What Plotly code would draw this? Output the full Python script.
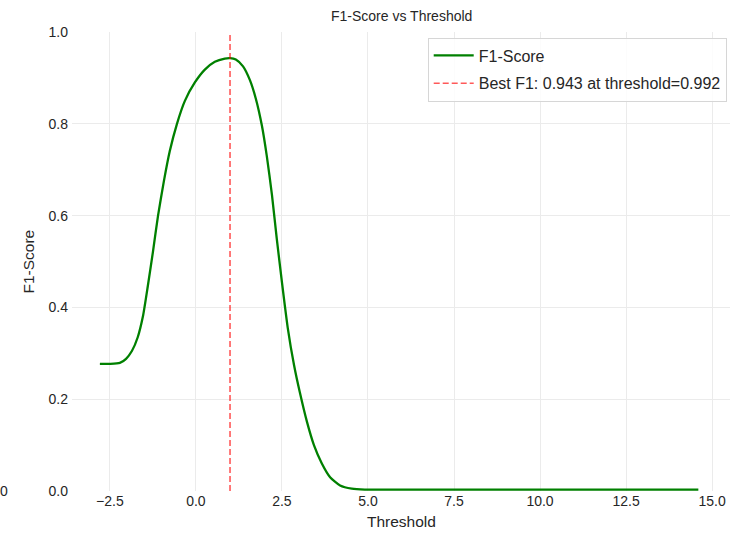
import plotly.graph_objects as go

# F1-score measured at each decision threshold
thresholds = [-2.79, -2.50, -2.21, -2.03, -1.86, -1.69, -1.54, -1.40, -1.25, -1.10,
              -0.93, -0.76, -0.55, -0.32, -0.03, 0.26, 0.55, 0.84, 0.992, 1.16,
              1.37, 1.57, 1.74, 1.92, 2.06, 2.21, 2.35, 2.50, 2.67, 2.85,
              3.02, 3.23, 3.43, 3.66, 3.90, 4.19, 4.53, 4.91, 6.0, 8.0,
              10.0, 12.0, 14.6]
f1_scores = [0.277, 0.277, 0.279, 0.288, 0.305, 0.335, 0.380, 0.445, 0.520, 0.600,
             0.675, 0.740, 0.800, 0.850, 0.890, 0.918, 0.935, 0.942, 0.943, 0.940,
             0.925, 0.895, 0.855, 0.795, 0.730, 0.645, 0.550, 0.455, 0.355, 0.275,
             0.215, 0.150, 0.100, 0.060, 0.030, 0.012, 0.005, 0.003, 0.003, 0.003,
             0.003, 0.003, 0.003]

best_f1 = 0.943
best_threshold = 0.992

x_ticks = [-2.5, 0.0, 2.5, 5.0, 7.5, 10.0, 12.5, 15.0]
y_ticks = [0.0, 0.2, 0.4, 0.6, 0.8, 1.0]

FONT = "Liberation Sans, Arial, sans-serif"
TEXT = "#262626"
GRID = "#ebebeb"

fig = go.Figure()
fig.add_trace(go.Scatter(
    x=thresholds, y=f1_scores, mode="lines", name="F1-Score", legendgroup="a",
    line=dict(color="green", width=2.3, shape="spline", smoothing=0.6),
))
fig.add_trace(go.Scatter(
    x=[best_threshold, best_threshold], y=[0, 1], mode="lines", legendgroup="b",
    name=f"Best F1: {best_f1:.3f} at threshold={best_threshold:.3f}",
    line=dict(color="rgba(255,0,0,0.65)", width=1.6, dash="6px,3px"),
))

fig.update_layout(
    width=744, height=533,
    margin=dict(l=72, r=14, t=32, b=42, autoexpand=False),
    paper_bgcolor="white", plot_bgcolor="white",
    font=dict(family=FONT, size=14, color=TEXT),
    showlegend=True,
    legend=dict(x=0.995, xanchor="right", y=0.988, yanchor="top",
                bgcolor="rgba(255,255,255,0.85)", bordercolor="#d6d6d6",
                borderwidth=1, font=dict(size=16, color=TEXT),
                itemwidth=40, tracegroupgap=4),
)
fig.update_xaxes(
    range=[-3.60, 15.52], tickvals=x_ticks, tickformat=".1f",
    showgrid=True, gridcolor=GRID, gridwidth=1, zeroline=False,
    showline=False, ticks="", tickfont=dict(size=14), automargin=False,
)
fig.update_yaxes(
    range=[0, 1], tickvals=y_ticks, tickformat=".1f",
    showgrid=True, gridcolor=GRID, gridwidth=1, zeroline=False,
    showline=False, ticks="", tickfont=dict(size=14), ticklabelstandoff=3,
    automargin=False,
)

# chart title
fig.add_annotation(text="F1-Score vs Threshold", xref="paper", yref="paper",
                   x=0.5, y=1 + 16 / 459, xanchor="center", yanchor="middle",
                   showarrow=False, font=dict(size=14, color=TEXT))

# axis titles
fig.add_annotation(text="Threshold", xref="paper", yref="paper",
                   x=0.5, y=-30 / 459, xanchor="center", yanchor="middle",
                   showarrow=False, font=dict(size=15.5, color=TEXT))
fig.add_annotation(text="F1-Score", xref="paper", yref="paper",
                   x=-44 / 658, y=0.5, xanchor="center", yanchor="middle",
                   textangle=-90, showarrow=False,
                   font=dict(size=15.5, color=TEXT))

# edge of the neighbouring panel's tick label
fig.add_annotation(text="0", xref="paper", yref="paper", x=-0.103, y=0,
                   xanchor="center", yanchor="middle", showarrow=False,
                   font=dict(size=14, color=TEXT))

fig.write_html("out.html")
